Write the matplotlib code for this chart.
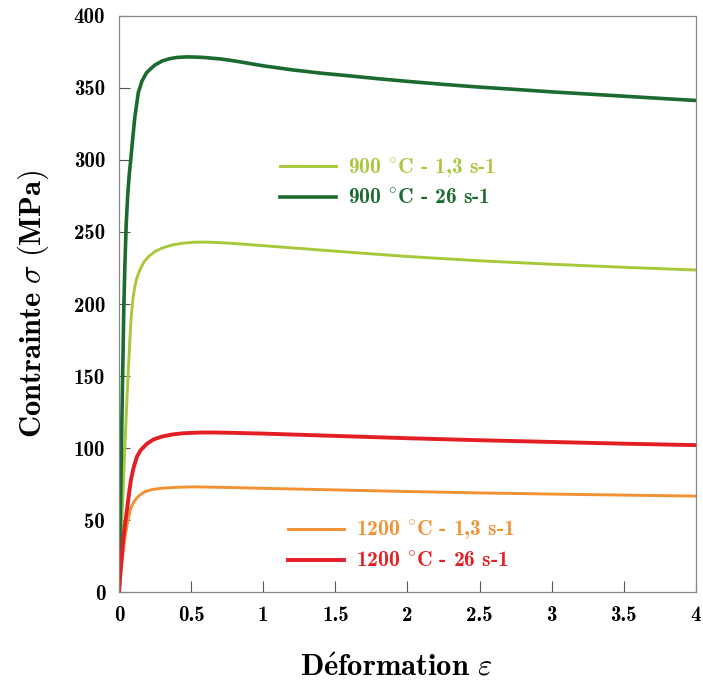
import matplotlib
matplotlib.use('Agg')
import matplotlib.pyplot as plt

# Strain values and stress in MPa for each test
eps_900_26 = [0, 0.01, 0.02, 0.033, 0.04, 0.05, 0.06, 0.07, 0.081, 0.095, 0.11, 0.134, 0.16,
              0.19, 0.215, 0.25, 0.3, 0.35, 0.4, 0.47, 0.55, 0.6, 0.7, 0.8, 0.9, 1.0, 1.2, 1.4,
              1.6, 1.8, 2.0, 2.25, 2.5, 2.75, 3.0, 3.25, 3.5, 3.75, 4.0]
sig_900_26 = [0, 60, 120, 196, 225, 256, 275, 289, 300, 315, 330, 347, 355,
              360.5, 363, 366, 368.8, 370.3, 371.2, 371.6, 371.4, 371.1, 370.2, 368.8, 367.1, 365.4, 362.6, 360.3,
              358.4, 356.4, 354.6, 352.5, 350.6, 349, 347.3, 345.8, 344.3, 342.8, 341.3]

eps_900_13 = [0, 0.02, 0.04, 0.06, 0.075, 0.085, 0.097, 0.109, 0.125, 0.148, 0.175, 0.206, 0.25,
              0.3, 0.37, 0.44, 0.52, 0.6, 0.7, 0.8, 1.0, 1.25, 1.5, 1.75, 2.0, 2.5, 3.0, 3.5, 4.0]
sig_900_13 = [0, 50, 100, 145, 175, 192, 204, 212, 218.5, 224.5, 229.5, 233, 236.5,
              238.9, 241, 242.2, 242.9, 243, 242.6, 242, 240.5, 238.6, 236.7, 234.8, 233, 230,
              227.6, 225.5, 223.6]

eps_1200_26 = [0, 0.01, 0.02, 0.03, 0.04, 0.055, 0.07, 0.083, 0.1, 0.124, 0.15, 0.194, 0.24,
               0.3, 0.37, 0.44, 0.55, 0.65, 0.8, 1.0, 1.5, 2.0, 2.5, 3.0, 3.5, 4.0]
sig_1200_26 = [0, 14, 26, 37, 46, 57, 69, 78, 86, 94, 98.5, 103, 106,
               108, 109.4, 110.2, 110.7, 110.8, 110.5, 110, 108.4, 106.8, 105.4, 104.2, 103, 102]

eps_1200_13 = [0, 0.01, 0.02, 0.03, 0.04, 0.06, 0.078, 0.095, 0.113, 0.14, 0.18, 0.23, 0.3,
               0.4, 0.5, 0.6, 0.8, 1.0, 1.5, 2.0, 2.5, 3.0, 3.5, 4.0]
sig_1200_13 = [0, 10, 20, 29, 37, 49, 57, 61, 64, 67, 69.7, 71.2, 72.1,
               72.7, 73, 72.9, 72.5, 72, 70.9, 69.8, 68.8, 68, 67.3, 66.6]

x_ticks = [0, 0.5, 1, 1.5, 2, 2.5, 3, 3.5, 4]
x_tick_labels = ['0', '0.5', '1', '1.5', '2', '2.5', '3', '3.5', '4']
y_ticks = [0, 50, 100, 150, 200, 250, 300, 350, 400]

plt.rcParams['mathtext.fontset'] = 'cm'
plt.rcParams['axes.unicode_minus'] = False

fig = plt.figure(figsize=(7.03, 6.86), dpi=100)
ax = fig.add_axes([0.1693, 0.137, 0.8207, 0.8397])

l1, = ax.plot(eps_900_13, sig_900_13, color='#a8c83c', lw=2.1, label=r'900 $^{\circ}$C - 1,3 s-1')
l2, = ax.plot(eps_900_26, sig_900_26, color='#1b6a30', lw=2.6, label=r'900 $^{\circ}$C - 26 s-1')
l3, = ax.plot(eps_1200_13, sig_1200_13, color='#f29233', lw=2.1, label=r'1200 $^{\circ}$C - 1,3 s-1')
l4, = ax.plot(eps_1200_26, sig_1200_26, color='#e31e24', lw=2.8, label=r'1200 $^{\circ}$C - 26 s-1')

ax.set_xlim(0, 4)
ax.set_ylim(0, 400)
ax.set_xticks(x_ticks)
ax.set_xticklabels(x_tick_labels)
ax.set_yticks(y_ticks)

for lab in ax.get_xticklabels() + ax.get_yticklabels():
    lab.set_family('cmb10')
    lab.set_fontsize(15)

ax.tick_params(direction='in', length=8, width=0.8, color='#555555')
ax.tick_params(axis='x', pad=10)
ax.tick_params(axis='y', pad=10)
for sp in ax.spines.values():
    sp.set_color('#8a8a8a')
    sp.set_linewidth(0.9)

ax.set_xlabel(r'$\mathbf{D\acute{e}formation}\ \varepsilon$', fontsize=22)
ax.set_ylabel(r'$\mathbf{Contrainte}\ \sigma\ \mathbf{(MPa)}$', fontsize=22)
ax.xaxis.set_label_coords(0.48, -0.105)
ax.yaxis.set_label_coords(-0.118, 0.5)

leg_font = {'family': 'cmb10', 'size': 15.5}
leg1 = ax.legend(handles=[l1, l2], loc='upper left', bbox_to_anchor=(0.245, 0.79),
                 frameon=False, prop=leg_font, labelcolor='linecolor',
                 handlelength=2.6, handletextpad=0.55, labelspacing=0.45)
ax.add_artist(leg1)
ax.legend(handles=[l3, l4], loc='upper left', bbox_to_anchor=(0.26, 0.16),
          frameon=False, prop=leg_font, labelcolor='linecolor',
          handlelength=2.6, handletextpad=0.55, labelspacing=0.45)

fig.savefig('out.png', dpi=100)
